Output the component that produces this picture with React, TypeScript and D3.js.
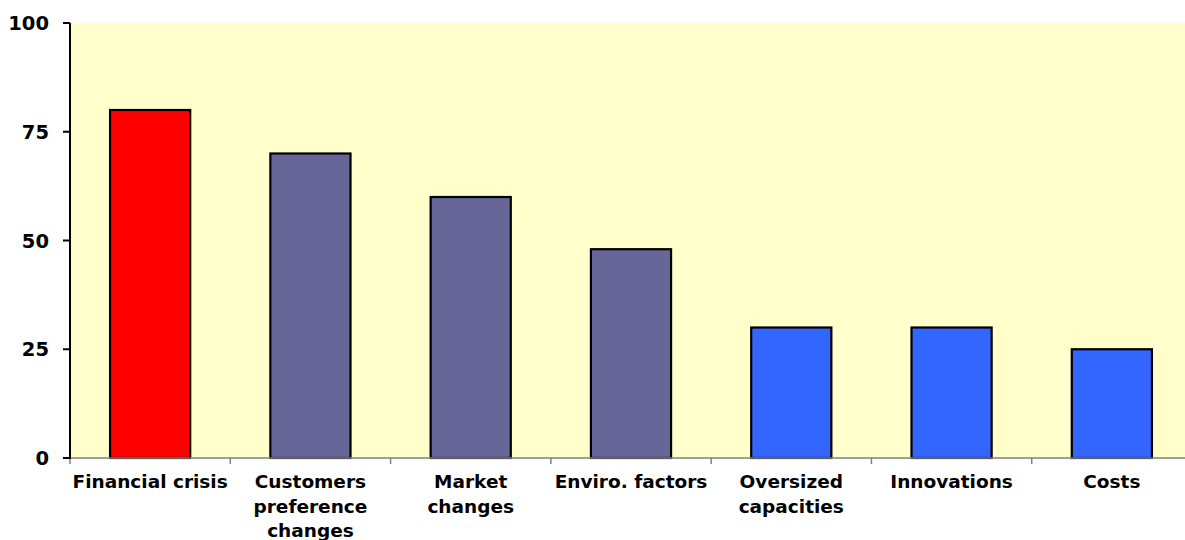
import React from "react";
import * as d3 from "d3";

const categories = [
  "Financial crisis",
  "Customers\npreference\nchanges",
  "Market\nchanges",
  "Enviro. factors",
  "Oversized\ncapacities",
  "Innovations",
  "Costs",
];
const values = [80, 70, 60, 48, 30, 30, 25];
const barColors = ["#FF0000", "#666699", "#666699", "#666699", "#3366FF", "#3366FF", "#3366FF"];
const yTicks = [0, 25, 50, 75, 100];

const W = 1185;
const H = 540;
const margin = { left: 70, top: 23, right: -7, bottom: 82 };
const FONT = "'DejaVu Sans', Verdana, sans-serif";

export default function App() {
  const innerRight = W - margin.right;
  const innerBottom = H - margin.bottom;

  const x = d3
    .scaleBand<number>()
    .domain(d3.range(categories.length))
    .range([margin.left, innerRight])
    .paddingInner(0.5)
    .paddingOuter(0.25);

  const y = d3.scaleLinear().domain([0, 100]).range([innerBottom, margin.top]);

  const step = x.step();
  const boundaries = d3.range(categories.length + 1).map((i) => margin.left + i * step);

  return (
    <svg
      width={W}
      height={H}
      style={{ position: "absolute", left: 0, top: 0, background: "#fff" }}
      fontFamily={FONT}
    >
      <rect
        x={margin.left}
        y={margin.top}
        width={innerRight - margin.left}
        height={innerBottom - margin.top}
        fill="#FFFFCC"
      />
      {values.map((v, i) => (
        <rect
          key={i}
          x={x(i)}
          y={y(v)}
          width={x.bandwidth()}
          height={y(0) - y(v)}
          fill={barColors[i]}
          stroke="#000"
          strokeWidth={2.2}
        />
      ))}
      {/* category axis */}
      <line x1={margin.left} x2={innerRight} y1={y(0)} y2={y(0)} stroke="#808080" strokeWidth={1.5} />
      {boundaries.map((bx, i) => (
        <line key={i} x1={bx} x2={bx} y1={y(0)} y2={y(0) + 6} stroke="#808080" strokeWidth={1.5} />
      ))}
      {categories.map((c, i) => {
        const cx = (x(i) as number) + x.bandwidth() / 2;
        return (
          <text
            key={i}
            x={cx}
            y={488}
            textAnchor="middle"
            fontSize={18.5}
            fontWeight="bold"
            fill="#000"
          >
            {c.split("\n").map((line, j) => (
              <tspan key={j} x={cx} dy={j === 0 ? 0 : 24.5}>
                {line}
              </tspan>
            ))}
          </text>
        );
      })}
      {/* value axis */}
      <line x1={margin.left} x2={margin.left} y1={margin.top} y2={y(0) + 1} stroke="#000" strokeWidth={2} />
      {yTicks.map((t) => (
        <g key={t}>
          <line x1={margin.left - 7} x2={margin.left} y1={y(t)} y2={y(t)} stroke="#000" strokeWidth={2} />
          <text
            x={49}
            y={y(t)}
            dy="0.36em"
            textAnchor="end"
            fontSize={19.5}
            fontWeight="bold"
            fill="#000"
          >
            {t}
          </text>
        </g>
      ))}
    </svg>
  );
}
